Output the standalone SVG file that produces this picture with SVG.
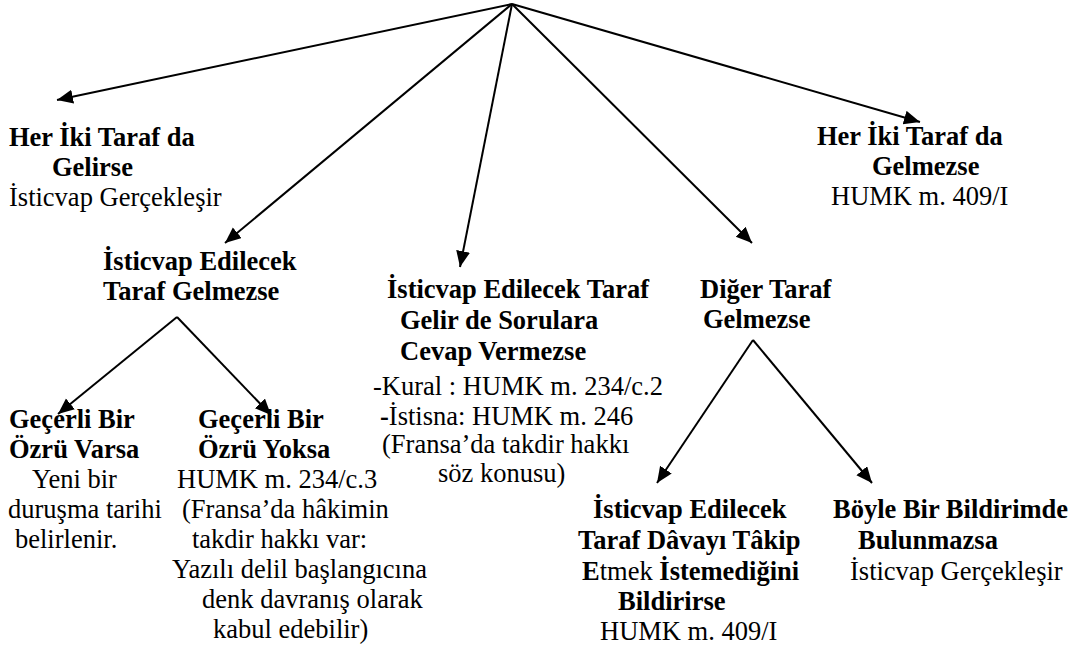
<svg xmlns="http://www.w3.org/2000/svg" width="1083" height="649" viewBox="0 0 1083 649">
<defs>
<marker id="ah" markerUnits="userSpaceOnUse" markerWidth="18" markerHeight="16" refX="16" refY="7" orient="auto">
<path d="M0,0 L16,7 L0,14 z" fill="#000"/>
</marker>
<style>
.b{font-weight:bold}
.c{stroke:#000;stroke-width:2;fill:none;marker-end:url(#ah)}
</style>
</defs>
<rect width="1083" height="649" fill="#fff"/>
<g id="connectors">
<path class="c" d="M512,4 L57,100"/>
<path class="c" d="M512,4 L225,243"/>
<path class="c" d="M512,4 L460,267"/>
<path class="c" d="M512,4 L752,243"/>
<path class="c" d="M512,4 L920,122"/>
<path class="c" d="M177,317 L58,414"/>
<path class="c" d="M177,317 L271,415"/>
<path class="c" d="M753,340 L657,483"/>
<path class="c" d="M753,340 L872,483"/>
</g>
<g font-family="Liberation Serif, Times New Roman, DejaVu Serif, serif" font-size="26.5" fill="#000">
<g id="n-both-come">
<text class="b" x="9" y="146">Her İki Taraf da</text>
<text class="b" x="52" y="176">Gelirse</text>
<text x="9" y="206">İsticvap Gerçekleşir</text>
</g>
<g id="n-both-absent">
<text class="b" x="817" y="145">Her İki Taraf da</text>
<text class="b" x="872" y="175">Gelmezse</text>
<text x="831" y="205">HUMK m. 409/I</text>
</g>
<g id="n-party-absent">
<text class="b" x="103" y="270">İsticvap Edilecek</text>
<text class="b" x="103" y="300">Taraf Gelmezse</text>
</g>
<g id="n-no-answer">
<text class="b" x="387" y="298">İsticvap Edilecek Taraf</text>
<text class="b" x="400" y="329">Gelir de Sorulara</text>
<text class="b" x="400" y="360">Cevap Vermezse</text>
<text x="373" y="395">-Kural : HUMK m. 234/c.2</text>
<text x="380" y="425"><tspan class="b">-</tspan>İstisna: HUMK m. 246</text>
<text x="382" y="453">(Fransa’da takdir hakkı</text>
<text x="438" y="482">söz konusu)</text>
</g>
<g id="n-other-absent">
<text class="b" x="700" y="298">Diğer Taraf</text>
<text class="b" x="703" y="328">Gelmezse</text>
</g>
<g id="n-excuse">
<text class="b" x="9" y="428">Geçerli Bir</text>
<text class="b" x="9" y="458">Özrü Varsa</text>
<text x="32" y="488">Yeni bir</text>
<text x="8" y="518">duruşma tarihi</text>
<text x="15" y="548">belirlenir.</text>
</g>
<g id="n-no-excuse">
<text class="b" x="198" y="428">Geçerli Bir</text>
<text class="b" x="198" y="458">Özrü Yoksa</text>
<text x="177" y="488">HUMK m. 234/c.3</text>
<text x="182" y="518">(Fransa’da hâkimin</text>
<text x="192" y="548">takdir hakkı var:</text>
<text x="172" y="578">Yazılı delil başlangıcına</text>
<text x="202" y="608">denk davranış olarak</text>
<text x="213" y="638">kabul edebilir)</text>
</g>
<g id="n-not-follow">
<text class="b" x="593" y="518">İsticvap Edilecek</text>
<text class="b" x="578" y="549">Taraf Dâvayı Tâkip</text>
<text x="582" y="580"><tspan class="b">E</tspan>tmek<tspan class="b"> İstemediğini</tspan></text>
<text class="b" x="618" y="610">Bildirirse</text>
<text x="600" y="640">HUMK m. 409/I</text>
</g>
<g id="n-no-notice">
<text class="b" x="833" y="518">Böyle Bir Bildirimde</text>
<text class="b" x="858" y="549">Bulunmazsa</text>
<text x="850" y="580">İsticvap Gerçekleşir</text>
</g>
</g>
</svg>
